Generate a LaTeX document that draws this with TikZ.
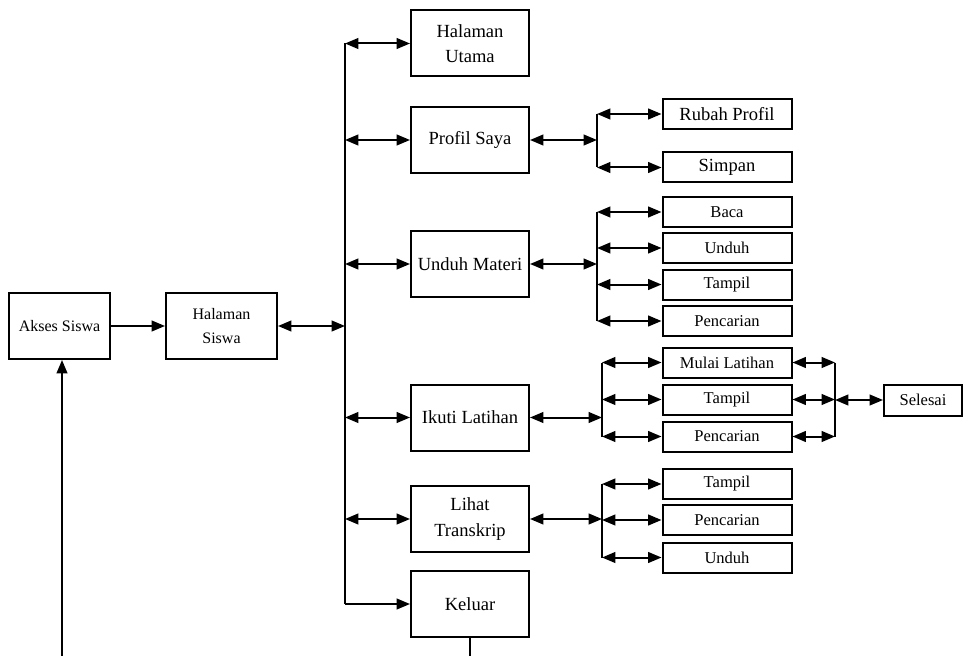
\documentclass[tikz,border=0pt]{standalone}
\usepackage{fontspec}
\setmainfont{Liberation Serif}
\usetikzlibrary{arrows.meta, positioning}

\begin{document}
\begin{tikzpicture}[x=0.75pt, y=-0.75pt,
    box/.style={draw, line width=1.5pt, align=center, inner sep=1pt},
    bigbox/.style={box, minimum width=88.5pt, minimum height=49.5pt, font=\fontsize{13.9}{19}\selectfont},
    subbox/.style={box, minimum width=96.75pt, minimum height=22.5pt, font=\fontsize{12.4}{15}\selectfont},
    link/.style={line width=1.5pt},
    both/.style={link, {Triangle[length=10pt,width=8pt]}-{Triangle[length=10pt,width=8pt]}},
    one/.style={link, -{Triangle[length=10pt,width=8pt]}}]
    \useasboundingbox (0,0) rectangle (964,656);

    % start
    \node[box, minimum width=75.75pt, minimum height=49.5pt, font=\fontsize{12}{17}\selectfont] (ak) at (59.5,326) {Akses Siswa};
    \node[box, minimum width=83.25pt, minimum height=49.5pt, font=\fontsize{12}{18}\selectfont] (hs) at (221.5,326) {Halaman\\Siswa};

    % main menu
    \node[bigbox] (hu) at (470,43.5) {Halaman\\Utama};
    \node[bigbox] (ps) at (470,140) {Profil Saya};
    \node[bigbox] (um) at (470,264) {Unduh Materi};
    \node[bigbox] (il) at (470,417.5) {Ikuti Latihan};
    \node[bigbox] (lt) at (470,519) {Lihat\\Transkrip};
    \node[bigbox] (ke) at (470,604) {Keluar};

    % sub menus
    \node[subbox, font=\fontsize{13.9}{17}\selectfont] (rp) at (727,114) {Rubah Profil};
    \node[subbox, font=\fontsize{13.9}{17}\selectfont] (sp) at (727,167.5) {Simpan};
    \node[subbox] (baca) at (727,212) {Baca};
    \node[subbox] (unduh) at (727,248) {Unduh};
    \node[subbox] (tampil) at (727,284.5) {Tampil};
    \node[subbox] (cari) at (727,321) {Pencarian};
    \node[subbox] (mulai) at (727,362.5) {Mulai Latihan};
    \node[subbox] (tampilb) at (727,399.5) {Tampil};
    \node[subbox] (carib) at (727,436.5) {Pencarian};
    \node[subbox, minimum width=58.5pt, minimum height=23.25pt] (se) at (923,400) {Selesai};
    \node[subbox] (tampilc) at (727,484) {Tampil};
    \node[subbox] (caric) at (727,520) {Pencarian};
    \node[subbox] (unduhc) at (727,557.5) {Unduh};

    % branch lines
    \coordinate (tr) at (345,0);
    \coordinate (bp) at (597,0);
    \coordinate (bu) at (597,0);
    \coordinate (bl) at (602,0);
    \coordinate (bt) at (602,0);
    \coordinate (br) at (835,0);
    \coordinate (ra) at (62,656);
    \coordinate (rk) at (470,656);

    \draw[one] (ak) -- (hs);
    \draw[both] (hs.east) -- (tr |- hs.east);

    % trunk
    \draw[link] (tr |- hu.west) -- (tr |- ke.west);
    \foreach \n in {hu,ps,um,il,lt}
        \draw[both] (tr |- \n.west) -- (\n.west);
    \draw[one] (tr |- ke.west) -- (ke.west);

    % Profil Saya
    \draw[both] (ps.east) -- (bp |- ps.east);
    \draw[link] (bp |- rp.west) -- (bp |- sp.west);
    \foreach \n in {rp,sp}
        \draw[both] (bp |- \n.west) -- (\n.west);

    % Unduh Materi
    \draw[both] (um.east) -- (bu |- um.east);
    \draw[link] (bu |- baca.west) -- (bu |- cari.west);
    \foreach \n in {baca,unduh,tampil,cari}
        \draw[both] (bu |- \n.west) -- (\n.west);

    % Ikuti Latihan
    \draw[both] (il.east) -- (bl |- il.east);
    \draw[link] (bl |- mulai.west) -- (bl |- carib.west);
    \draw[link] (br |- mulai.east) -- (br |- carib.east);
    \foreach \n in {mulai,tampilb,carib} {
        \draw[both] (bl |- \n.west) -- (\n.west);
        \draw[both] (\n.east) -- (br |- \n.east);
    }
    \draw[both] (br |- se.west) -- (se.west);

    % Lihat Transkrip
    \draw[both] (lt.east) -- (bt |- lt.east);
    \draw[link] (bt |- tampilc.west) -- (bt |- unduhc.west);
    \foreach \n in {tampilc,caric,unduhc}
        \draw[both] (bt |- \n.west) -- (\n.west);

    % back to start
    \draw[link] (ke.south) -- (rk);
    \draw[one] (ra) -- (ra |- ak.south);
\end{tikzpicture}
\end{document}
